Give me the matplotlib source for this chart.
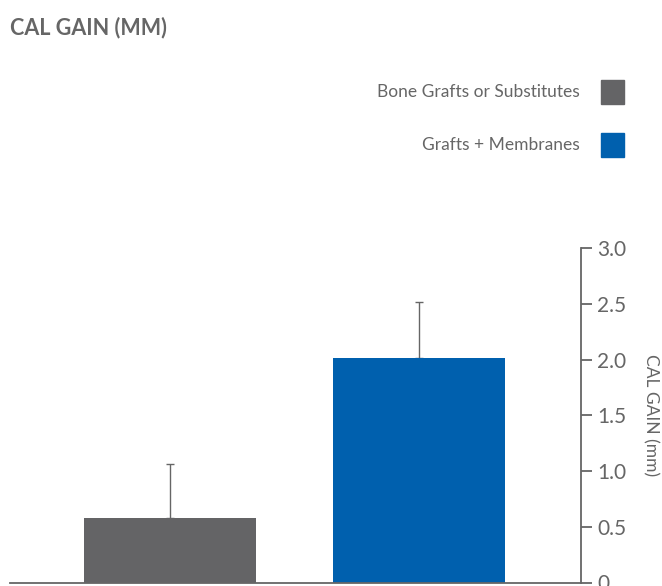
import numpy as np
import matplotlib.pyplot as plt

# chart data
groups = ["Bone Grafts or Substitutes", "Grafts + Membranes"]
cal_gain = [0.58, 2.01]
cal_err = [0.48, 0.51]
bar_colors = ["#646466", "#0060ae"]
y_ticks = [0, 0.5, 1.0, 1.5, 2.0, 2.5, 3.0]
y_tick_labels = ["0", "0.5", "1.0", "1.5", "2.0", "2.5", "3.0"]

grey = "#666666"
plt.rcParams['font.family'] = ['Lato', 'DejaVu Sans']

fig = plt.figure(figsize=(6.62, 5.86), dpi=100)
ax = fig.add_axes([9.6 / 662, (586 - 582.5) / 586, (580.7 - 9.6) / 662, (582.5 - 248) / 586])

x = np.arange(len(groups))
ax.bar(x, cal_gain, width=0.69, color=bar_colors, zorder=2)
# upper error bars only
ax.errorbar(x, cal_gain, yerr=[np.zeros(len(cal_err)), cal_err], fmt="none",
            ecolor=grey, elinewidth=1, capsize=3, capthick=1, zorder=1)

ax.set_xlim(-0.644, 1.647)
ax.set_ylim(0, 3.0)
ax.set_xticks([])
ax.set_yticks(y_ticks)
ax.set_yticklabels(y_tick_labels)
ax.yaxis.tick_right()
ax.yaxis.set_label_position("right")
ax.tick_params(axis="y", direction="out", length=8, width=1.3, color=grey,
               labelcolor=grey, labelsize=15, pad=4)

for side in ["top", "left"]:
    ax.spines[side].set_visible(False)
for side in ["right", "bottom"]:
    ax.spines[side].set_color(grey)
    ax.spines[side].set_linewidth(1.3)

ax.set_ylabel("CAL GAIN (mm)", rotation=-90, color=grey, fontsize=12.5, labelpad=23)

# title
fig.text(10 / 662, 1 - 28 / 586, "CAL GAIN (MM)", fontsize=15.5, fontweight="bold",
         color=grey, ha="left", va="center")

# legend drawn as text + squares
legend_y = [92, 145]
for name, col, yy in zip(groups, bar_colors, legend_y):
    fig.text(580 / 662, 1 - yy / 586, name, fontsize=12.5,
             color=grey, ha="right", va="center")
    fig.patches.append(plt.Rectangle((601 / 662, 1 - (yy + 11.5) / 586), 23 / 662, 23 / 586,
                                     transform=fig.transFigure, color=col, figure=fig))

fig.savefig("out.png", dpi=100)
